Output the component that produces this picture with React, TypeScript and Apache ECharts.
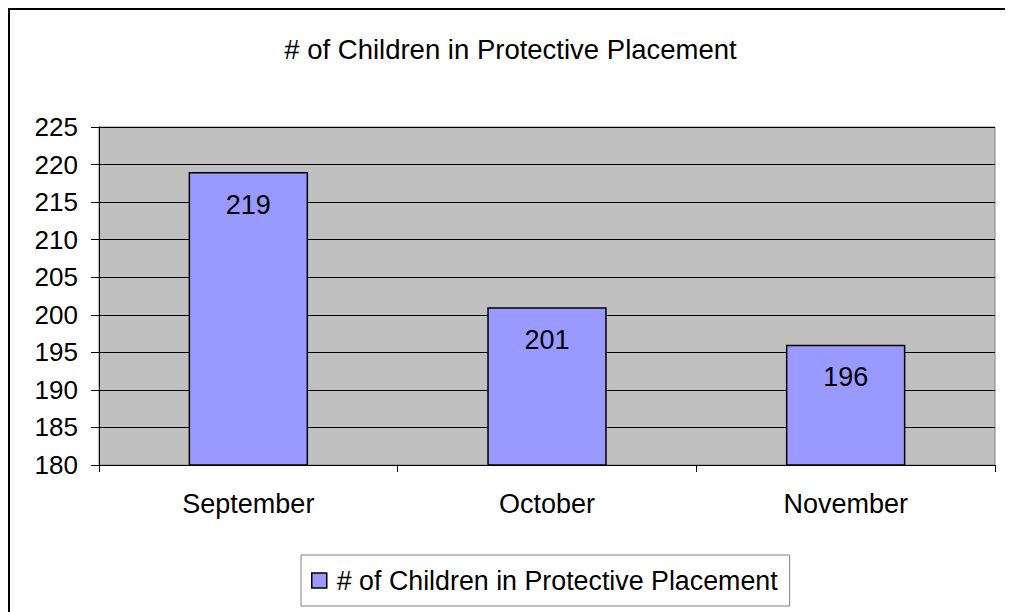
import React, { useEffect, useRef } from "react";
import * as echarts from "echarts";

const categories = ["September", "October", "November"];
const values = [219, 201, 196];
const seriesName = "# of Children in Protective Placement";
const titleText = "# of Children in Protective Placement";

export default function App() {
  const ref = useRef<HTMLDivElement>(null);
  useEffect(() => {
    if (!ref.current) return;
    const chart = echarts.init(ref.current, undefined, { renderer: "svg" });
    const font = "'Liberation Sans', Arial, sans-serif";
    chart.setOption({
      animation: false,
      backgroundColor: "#ffffff",
      textStyle: { fontFamily: font, color: "#000" },
      title: {
        text: titleText,
        left: "center",
        top: 22,
        textStyle: { fontFamily: font, fontSize: 27.5, fontWeight: "normal", color: "#000" },
      },
      graphic: [
        {
          type: "rect",
          shape: { x: 1, y: 1, width: 1003, height: 700 },
          style: { fill: "none", stroke: "#000", lineWidth: 2 },
          silent: true,
        },
      ],
      grid: {
        left: 91,
        top: 119,
        right: 18,
        bottom: 147,
        show: true,
        backgroundColor: "#C0C0C0",
        borderColor: "#808080",
        borderWidth: 1,
      },
      legend: {
        data: [seriesName],
        left: 293,
        top: 547,
        padding: [12, 12, 12, 10],
        borderColor: "#808080",
        borderWidth: 1,
        itemWidth: 15,
        itemHeight: 15,
        itemGap: 0,
        icon: "rect",
        itemStyle: { color: "#9999FF", borderColor: "#000", borderWidth: 1.5 },
        textStyle: { fontFamily: font, fontSize: 26.8, color: "#000", padding: [0, 0, 0, 5] },
      },
      xAxis: {
        type: "category",
        data: categories,
        axisLine: { show: true, lineStyle: { color: "#000", width: 1 } },
        axisTick: { show: true, interval: 0, length: 7, alignWithLabel: false, lineStyle: { color: "#000" } },
        axisLabel: { fontFamily: font, fontSize: 27, color: "#000", margin: 25 },
        splitLine: { show: false },
      },
      yAxis: {
        type: "value",
        min: 180,
        max: 225,
        interval: 5,
        axisLine: { show: true, lineStyle: { color: "#000", width: 1 } },
        axisTick: { show: true, length: 8, lineStyle: { color: "#000" } },
        axisLabel: { fontFamily: font, fontSize: 26, color: "#000", margin: 21 },
        splitLine: { show: true, lineStyle: { color: "#000", width: 1 } },
      },
      series: [
        {
          name: seriesName,
          type: "bar",
          data: values,
          barWidth: "40%",
          itemStyle: { color: "#9999FF", borderColor: "#000", borderWidth: 1.5 },
          label: {
            show: true,
            position: "insideTop",
            distance: 19,
            fontFamily: font,
            fontSize: 27,
            color: "#000",
          },
        },
      ],
    });
    return () => chart.dispose();
  }, []);
  return <div ref={ref} style={{ width: 1005, height: 604 }} />;
}
